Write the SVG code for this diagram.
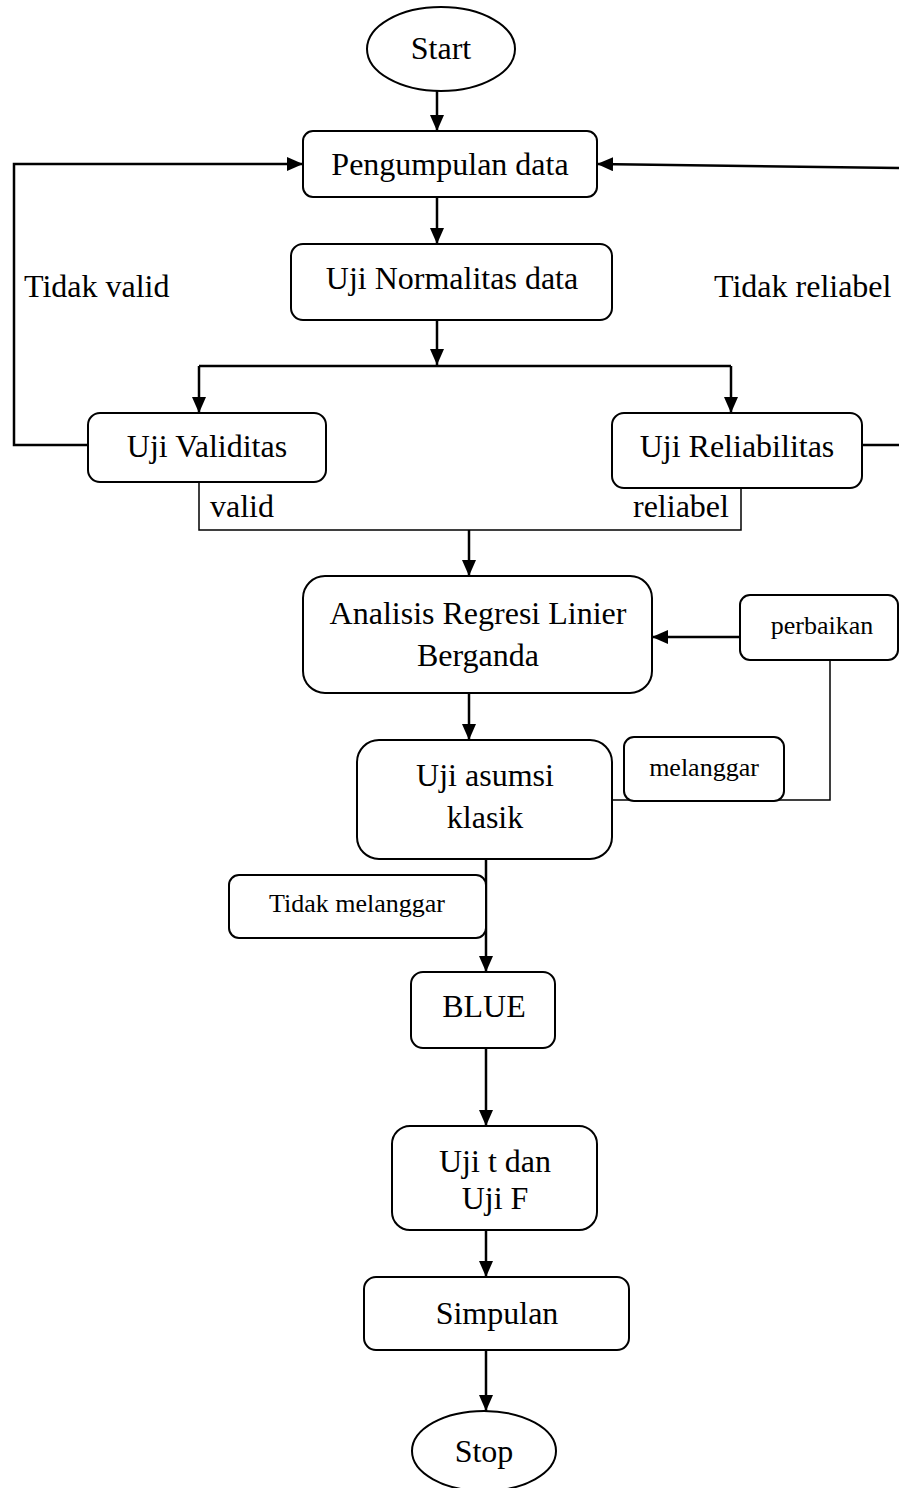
<svg xmlns="http://www.w3.org/2000/svg" width="899" height="1488" viewBox="0 0 899 1488">
<style>
.n{fill:#fff;stroke:#000;stroke-width:2}
.c{fill:none;stroke:#000;stroke-width:2.5}
.t{fill:none;stroke:#000;stroke-width:1.5}
text{font-family:"Liberation Serif","Times New Roman",serif;font-size:32px;fill:#000;text-anchor:middle}
.s{font-size:26px}
.l{text-anchor:start}
</style>
<defs>
<marker id="a" markerWidth="16" markerHeight="14" refX="16" refY="7" orient="auto" markerUnits="userSpaceOnUse">
<path d="M0,0 L16,7 L0,14 Z" fill="#000"/>
</marker>
</defs>
<g id="connectors">
<path class="c" d="M437,91 V131" marker-end="url(#a)"/>
<path class="c" d="M437,197 V244" marker-end="url(#a)"/>
<path class="c" d="M437,320 V365" marker-end="url(#a)"/>
<path class="c" d="M199,366 H731"/>
<path class="c" d="M199,366 V413" marker-end="url(#a)"/>
<path class="c" d="M731,366 V413" marker-end="url(#a)"/>
<path class="c" d="M88,445 H14 V164 H303" marker-end="url(#a)"/>
<path class="c" d="M862,445 H899"/>
<path class="c" d="M899,168 L597,164" marker-end="url(#a)"/>
<path class="t" d="M199,482 V530 H741 V488"/>
<path class="c" d="M469,530 V576" marker-end="url(#a)"/>
<path class="c" d="M740,637 H652" marker-end="url(#a)"/>
<path class="t" d="M830,660 V800 H612"/>
<path class="c" d="M469,693 V740" marker-end="url(#a)"/>
<path class="c" d="M486,859 V972" marker-end="url(#a)"/>
<path class="c" d="M486,1048 V1126" marker-end="url(#a)"/>
<path class="c" d="M486,1230 V1277" marker-end="url(#a)"/>
<path class="c" d="M486,1350 V1411" marker-end="url(#a)"/>
<text class="l" x="24" y="297">Tidak valid</text>
<text class="l" x="714" y="297">Tidak reliabel</text>
<text class="l" x="210" y="517">valid</text>
<text class="l" x="633" y="517">reliabel</text>
</g>
<g id="start"><ellipse class="n" cx="441" cy="49" rx="74" ry="42"/><text x="441" y="59">Start</text></g>
<g id="pengumpulan"><rect class="n" x="303" y="131" width="294" height="66" rx="10"/><text x="450" y="175">Pengumpulan data</text></g>
<g id="normalitas"><rect class="n" x="291" y="244" width="321" height="76" rx="12"/><text x="452" y="289">Uji Normalitas data</text></g>
<g id="validitas"><rect class="n" x="88" y="413" width="238" height="69" rx="12"/><text x="207" y="457">Uji Validitas</text></g>
<g id="reliabilitas"><rect class="n" x="612" y="413" width="250" height="75" rx="12"/><text x="737" y="457">Uji Reliabilitas</text></g>
<g id="analisis"><rect class="n" x="303" y="576" width="349" height="117" rx="22"/><text x="478" y="624">Analisis Regresi Linier</text><text x="478" y="666">Berganda</text></g>
<g id="perbaikan"><rect class="n" x="740" y="595" width="158" height="65" rx="10"/><text class="s" x="822" y="634">perbaikan</text></g>
<g id="asumsi"><rect class="n" x="357" y="740" width="255" height="119" rx="22"/><text x="485" y="786">Uji asumsi</text><text x="485" y="828">klasik</text></g>
<g id="melanggar"><rect class="n" x="624" y="737" width="160" height="64" rx="10"/><text class="s" x="704" y="776">melanggar</text></g>
<g id="tidakmelanggar"><rect class="n" x="229" y="875" width="257" height="63" rx="10"/><text class="s" x="357" y="912">Tidak melanggar</text></g>
<g id="blue"><rect class="n" x="411" y="972" width="144" height="76" rx="12"/><text x="484" y="1017">BLUE</text></g>
<g id="ujitf"><rect class="n" x="392" y="1126" width="205" height="104" rx="18"/><text x="495" y="1172">Uji t dan</text><text x="495" y="1209">Uji F</text></g>
<g id="simpulan"><rect class="n" x="364" y="1277" width="265" height="73" rx="12"/><text x="497" y="1324">Simpulan</text></g>
<g id="stop"><ellipse class="n" cx="484" cy="1451" rx="72" ry="40"/><text x="484" y="1462">Stop</text></g>
</svg>
